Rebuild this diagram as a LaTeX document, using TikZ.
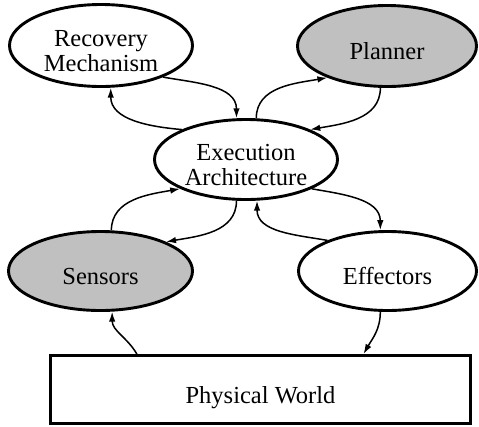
\documentclass[tikz,border=0pt]{standalone}
\usepackage{fontspec}
\setmainfont{Liberation Serif}
\usetikzlibrary{shapes.geometric,arrows.meta}
\definecolor{shade}{RGB}{192,192,192}
\newcommand{\lowtext}[1]{\raisebox{-8.5pt}[\height][\depth]{\begin{tabular}{@{}c@{}}#1\end{tabular}}}
\tikzset{
  oval/.style={ellipse,draw=black,line width=2.9pt,inner sep=0pt,
    font=\fontsize{24.5}{25}\selectfont},
  box/.style={rectangle,draw=black,line width=2.9pt,inner sep=0pt,
    font=\fontsize{24.5}{25}\selectfont},
  conn/.style={line width=1.5pt,-{Latex[length=10pt,width=6.5pt]}},
}
\begin{document}
\begin{tikzpicture}[x=1pt,y=1pt]
\useasboundingbox (0,0) rectangle (479,-426);
\node[oval,minimum width=183pt,minimum height=82pt] (rec) at (101,-45.5) {\lowtext{Recovery\\Mechanism}};
\node[oval,fill=shade,minimum width=179pt,minimum height=81pt] (plan) at (387,-46) {\lowtext{Planner}};
\node[oval,minimum width=183pt,minimum height=80pt] (exec) at (246,-159.5) {\lowtext{Execution\\Architecture}};
\node[oval,fill=shade,minimum width=184pt,minimum height=79pt] (sens) at (100.5,-271) {\lowtext{Sensors}};
\node[oval,minimum width=178pt,minimum height=79pt] (eff) at (387.5,-271) {\lowtext{Effectors}};
\node[box,minimum width=420pt,minimum height=68pt] (phys) at (260.5,-389.5) {\lowtext{Physical World}};

\draw[conn] (rec.-27.7) to[out=-10,in=90] (exec.103.5);
\draw[conn] (exec.155.2) to[out=175,in=-90] (rec.-77);
\draw[conn] (exec.76.5) to[out=90,in=190] (plan.-152);
\draw[conn] (plan.-99.5) to[out=-90,in=10] (exec.25.5);
\draw[conn] (sens.75.6) to[out=90,in=190] (exec.204);
\draw[conn] (exec.-103.5) to[out=-90,in=10] (sens.24);
\draw[conn] (eff.153.6) to[out=170,in=-90] (exec.-75);
\draw[conn] (exec.-24.8) to[out=-10,in=90] (eff.100);
\draw[conn] (phys.164.7) to[out=120,in=-90] (sens.-74);
\draw[conn] (eff.-100) to[out=-90,in=60] (phys.19.8);
\end{tikzpicture}
\end{document}
